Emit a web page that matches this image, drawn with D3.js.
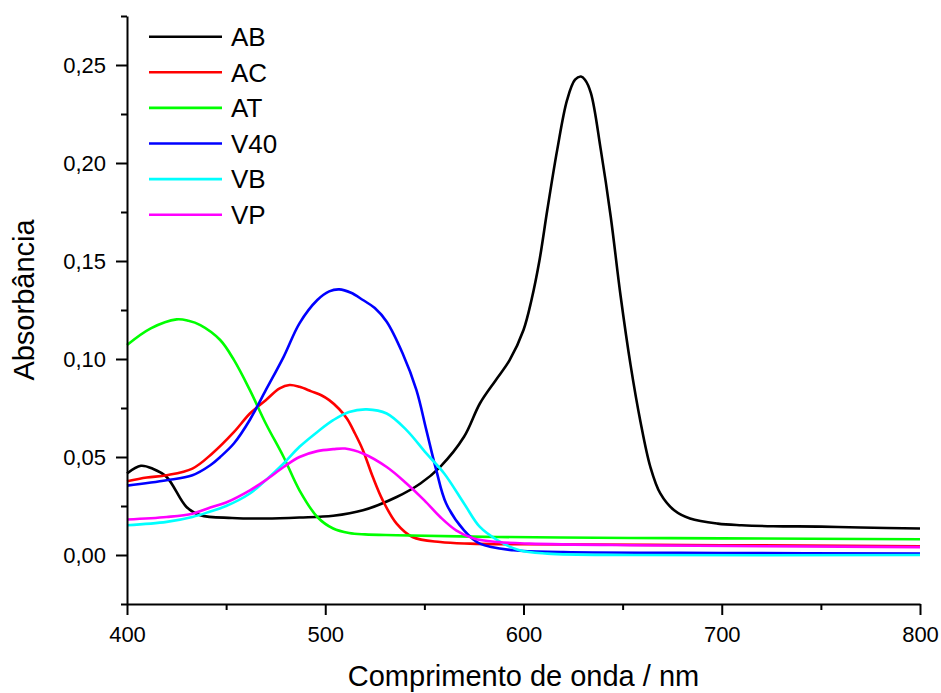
<!DOCTYPE html>
<html>
<head>
<meta charset="utf-8">
<script src="https://cdn.jsdelivr.net/npm/d3@7"></script>
<style>
  body { margin: 0; background: #fff; }
  svg { display: block; }
  text { font-family: "Liberation Sans", Arial, sans-serif; fill: #000; }
</style>
</head>
<body>
<svg id="chart" width="941" height="693"></svg>
<script>
// ---- data (wavelength nm, absorbance) ----
const seriesNames = ["AB", "AC", "AT", "V40", "VB", "VP"];
const seriesColors = ["#000000", "#ff0000", "#00ff00", "#0000ff", "#00ffff", "#ff00ff"];

const AB = [[400,0.0416],[407,0.0455],[413,0.0440],[420,0.0398],[430,0.0245],[437,0.0203],[453,0.0189],[470,0.0186],[487,0.0191],[504,0.0200],[519,0.0228],[536,0.0296],[548,0.0365],[558,0.0450],[570,0.0603],[578,0.0773],[586,0.0892],[593,0.0994],[600,0.1148],[604,0.1300],[608,0.1500],[612,0.1760],[617,0.2067],[622,0.2322],[626,0.2425],[629,0.2441],[631,0.2425],[634,0.2357],[639,0.2067],[644,0.1726],[649,0.1320],[654,0.0970],[659,0.0680],[664,0.0449],[669,0.0314],[676,0.0228],[684,0.0186],[698,0.0160],[710,0.0152],[726,0.0147],[750,0.0145],[770,0.0140],[800,0.0135]];
const AC = [[400,0.0376],[410,0.0395],[420,0.0407],[433,0.0441],[443,0.0518],[454,0.0628],[462,0.0722],[470,0.0790],[477,0.0850],[482,0.0867],[487,0.0858],[493,0.0835],[498,0.0815],[502,0.0790],[507,0.0745],[511,0.0695],[515,0.0620],[519,0.0535],[524,0.0398],[529,0.0279],[536,0.0160],[544,0.0092],[558,0.0066],[573,0.0058],[600,0.0055],[700,0.0050],[800,0.0045]];
const AT = [[400,0.1071],[412,0.1156],[425,0.1202],[431,0.1195],[437,0.1173],[447,0.1097],[454,0.0994],[462,0.0841],[470,0.0671],[479,0.0500],[487,0.0330],[496,0.0194],[504,0.0135],[512,0.0112],[520,0.0105],[536,0.0101],[587,0.0092],[654,0.0087],[700,0.0085],[800,0.0080]];
const V40 = [[400,0.0354],[420,0.0381],[433,0.0407],[442,0.0458],[447,0.0500],[454,0.0570],[462,0.0690],[470,0.0841],[479,0.1011],[487,0.1182],[496,0.1301],[502,0.1345],[507,0.1355],[513,0.1338],[519,0.1301],[525,0.1260],[531,0.1190],[539,0.1029],[546,0.0841],[551,0.0637],[556,0.0433],[561,0.0263],[570,0.0126],[578,0.0058],[595,0.0024],[620,0.0015],[700,0.0010],[800,0.0008]];
const VB = [[400,0.0152],[420,0.0169],[433,0.0194],[442,0.0222],[450,0.0250],[462,0.0314],[470,0.0382],[479,0.0467],[487,0.0552],[496,0.0628],[504,0.0688],[512,0.0730],[521,0.0743],[531,0.0722],[541,0.0637],[551,0.0518],[560,0.0416],[570,0.0263],[578,0.0143],[587,0.0075],[598,0.0024],[612,0.0007],[654,0.0000],[800,0.0000]];
const VP = [[400,0.0181],[420,0.0194],[433,0.0211],[442,0.0242],[450,0.0268],[462,0.0330],[470,0.0382],[479,0.0449],[487,0.0500],[496,0.0530],[504,0.0540],[510,0.0543],[519,0.0518],[531,0.0449],[541,0.0365],[550,0.0279],[558,0.0194],[566,0.0126],[575,0.0084],[587,0.0066],[603,0.0058],[654,0.0050],[800,0.0040]];
const seriesData = [AB, AC, AT, V40, VB, VP];

const xMajorTicks = [400, 500, 600, 700, 800];
const xMinorTicks = [450, 550, 650, 750];
const yMajorTicks = [0, 0.05, 0.10, 0.15, 0.20, 0.25];
const yMinorTicks = [-0.025, 0.025, 0.075, 0.125, 0.175, 0.225, 0.275];
const xTitle = "Comprimento de onda / nm";
const yTitle = "Absorbância";

// ---- layout ----
const FONT = "'Liberation Sans', Arial, sans-serif";
const svg = d3.select("#chart");
const x = d3.scaleLinear().domain([400, 800]).range([127, 920]);
const y = d3.scaleLinear().domain([-0.025, 0.275]).range([604, 16]);
const fmtY = v => d3.format(".2f")(v).replace(".", ",");

// curves
const line = d3.line().x(d => x(d[0])).y(d => y(d[1])).curve(d3.curveCatmullRom.alpha(0.5));
seriesData.forEach((s, i) => {
  svg.append("path").datum(s)
    .attr("fill", "none")
    .attr("stroke", seriesColors[i])
    .attr("stroke-width", 2.6)
    .attr("stroke-linejoin", "round")
    .attr("d", line);
});

// axes
svg.append("g").attr("transform", "translate(0,604)")
  .call(d3.axisBottom(x).tickValues(xMajorTicks).tickSize(11).tickSizeOuter(0).tickPadding(11).tickFormat(d3.format("d")));
svg.append("g").attr("transform", "translate(0,604)")
  .call(d3.axisBottom(x).tickValues(xMinorTicks).tickSize(6).tickSizeOuter(0).tickFormat(""))
  .select(".domain").remove();
svg.append("g").attr("transform", "translate(127,0)")
  .call(d3.axisLeft(y).tickValues(yMajorTicks).tickSize(11).tickSizeOuter(0).tickPadding(10).tickFormat(fmtY));
svg.append("g").attr("transform", "translate(127,0)")
  .call(d3.axisLeft(y).tickValues(yMinorTicks).tickSize(6).tickSizeOuter(0).tickFormat(""))
  .select(".domain").remove();

svg.selectAll(".domain, .tick line").attr("stroke", "#000").attr("stroke-width", 2);
svg.selectAll(".tick text").attr("font-size", 22).attr("font-family", FONT).attr("fill", "#000");

// axis titles
svg.append("text").attr("x", 523.5).attr("y", 686).attr("text-anchor", "middle")
  .attr("font-family", FONT).attr("font-size", 29).text(xTitle);
svg.append("text").attr("transform", "translate(34,300) rotate(-90)").attr("text-anchor", "middle")
  .attr("font-family", FONT).attr("font-size", 29).text(yTitle);

// legend
const legend = svg.append("g");
seriesNames.forEach((name, i) => {
  const ly = 36.7 + i * 35.6;
  legend.append("line").attr("x1", 149).attr("x2", 222).attr("y1", ly).attr("y2", ly)
    .attr("stroke", seriesColors[i]).attr("stroke-width", 2.6);
  legend.append("text").attr("x", 231).attr("y", ly + 0.358 * 26)
    .attr("font-family", FONT).attr("font-size", 26).text(name);
});
</script>
</body>
</html>
